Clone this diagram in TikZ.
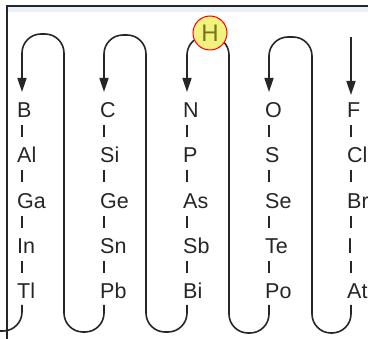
\documentclass[tikz,border=0pt]{standalone}
\usepackage{fontspec}
\setmainfont{Liberation Sans}
\usetikzlibrary{arrows.meta}
\definecolor{ink}{HTML}{262626}
\definecolor{strip}{HTML}{EAF0F8}
\definecolor{hfill}{HTML}{F2F27E}
\definecolor{htext}{HTML}{76761A}
\begin{document}
\begin{tikzpicture}[x=1pt,y=-1pt,
  wire/.style={draw=ink, line width=1.6pt, rounded corners=19pt},
  tip/.style={-{Triangle[length=14pt,width=9pt]}},
  el/.style={anchor=west, inner sep=0pt, text height=15pt, text depth=0pt, font=\fontsize{21.5}{24}\selectfont, text=ink},
  bar/.style={draw=ink, line width=1.3pt},
  hcirc/.style={circle, draw=red, line width=1pt, fill=hfill, minimum size=34pt, inner sep=0pt, text=htext, font=\fontsize{24}{26}\selectfont}]
\clip (0,0) rectangle (368,339);
\fill[white] (0,0) rectangle (368,339);
\fill[strip] (8,7) rectangle (368,12);
\draw[ink, line width=1.6pt] (7,345) -- (7,6) -- (370,6);
% elements
\foreach \x/\lx/\a/\b/\c/\d/\e in {17/22/B/Al/Ga/In/Tl, 100/104/C/Si/Ge/Sn/Pb, 183/187/N/P/As/Sb/Bi, 265/269/O/S/Se/Te/Po, 347/351/F/Cl/Br/I/At}{
  \node[el] (\a) at (\x,110) {\a};
  \node[el] (\b) at (\x,155) {\b};
  \node[el] (\c) at (\x,201) {\c};
  \node[el] (\d) at (\x,246) {\d};
  \node[el] (\e) at (\x,291) {\e};
  \foreach \y in {110,155,201,246}{
    \draw[bar] (\lx,\y+15) -- (\lx,\y+27);
  }
  \coordinate (bot\e) at (\lx,305);
  \coordinate (tip\a) at (\lx,92);
}
% snake
\draw[wire] (botTl) -- (22,331) -- (-20,331);
\draw[wire, tip] (botPb) -- (104,332) -- (64,332) -- (64,34) -- (22,34) -- (tipB);
\draw[wire, tip] (botBi) -- (187,332) -- (146,332) -- (146,35) -- (104,35) -- (tipC);
\draw[wire, tip] (botPo) -- (269,333) -- (229,333) -- (229,36) -- (187,36) -- (tipN);
\draw[wire, tip] (botAt) -- (351,333) -- (312,333) -- (312,37) -- (269,37) -- (tipO);
\coordinate (topF) at (351,37);
\coordinate (tipF2) at (351,95);
\draw[wire, tip] (topF) -- (tipF2);
\node[hcirc] (H) at (210,33) {H};
\end{tikzpicture}
\end{document}
